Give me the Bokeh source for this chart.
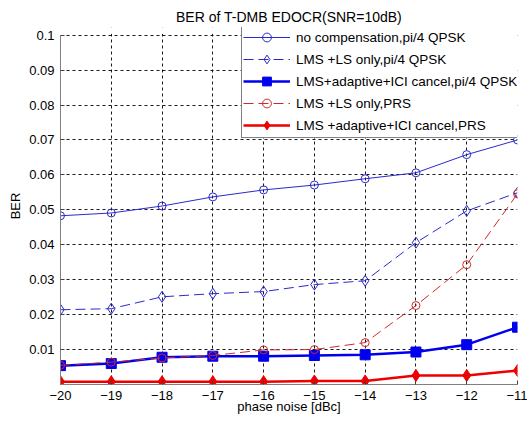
from bokeh.plotting import figure
from bokeh.embed import file_html
from bokeh.resources import INLINE
from bokeh.models import FixedTicker, NumeralTickFormatter, Legend, LegendItem, Range1d, BoxAnnotation

# ---- data ----
phase_noise = [-20, -19, -18, -17, -16, -15, -14, -13, -12, -11]
no_comp_qpsk = [0.0483, 0.0491, 0.0511, 0.0537, 0.0557, 0.0571, 0.0589, 0.0606, 0.0658, 0.0700]
lms_ls_qpsk = [0.0214, 0.0217, 0.0251, 0.0260, 0.0266, 0.0286, 0.0297, 0.0406, 0.0497, 0.0549]
lms_adapt_qpsk = [0.0054, 0.0060, 0.0078, 0.0081, 0.0081, 0.0083, 0.0085, 0.0093, 0.0114, 0.0164]
lms_ls_prs = [0.0055, 0.0064, 0.0076, 0.0083, 0.0099, 0.0100, 0.0120, 0.0226, 0.0343, 0.0546]
lms_adapt_prs = [0.0008, 0.0008, 0.0008, 0.0008, 0.0008, 0.0010, 0.0010, 0.0026, 0.0026, 0.0040]

x_ticks = [-20, -19, -18, -17, -16, -15, -14, -13, -12, -11]
y_ticks = [0.01, 0.02, 0.03, 0.04, 0.05, 0.06, 0.07, 0.08, 0.09, 0.1]

labels = ["no compensation,pi/4 QPSK",
          "LMS +LS only,pi/4 QPSK",
          "LMS+adaptive+ICI cancel,pi/4 QPSK",
          "LMS +LS only,PRS",
          "LMS +adaptive+ICI cancel,PRS"]

FONT = "Liberation Sans"
Y_TOP = max(y_ticks)

p = figure(width=527, height=425, output_backend="svg", toolbar_location=None,
           x_range=Range1d(-20, -11), y_range=Range1d(0, Y_TOP * 1.022),
           title="BER of T-DMB EDOCR(SNR=10dB)",
           min_border_left=60, min_border_right=10, min_border_top=27, min_border_bottom=41)

p.title.align = "center"
p.title.text_font = FONT
p.title.text_font_size = "14px"
p.title.text_font_style = "normal"
p.title.text_color = "black"
p.title.standoff = 5

p.outline_line_color = None
p.background_fill_color = "white"
p.border_fill_color = "white"

for ax in (p.xaxis[0], p.yaxis[0]):
    ax.axis_line_color = "#808080"
    ax.major_tick_line_color = "#404040"
    ax.major_tick_in = 4
    ax.major_tick_out = 0
    ax.minor_tick_line_color = None
    ax.major_label_text_font = FONT
    ax.major_label_text_font_size = "13px"
    ax.major_label_text_color = "black"
    ax.axis_label_text_font = FONT
    ax.axis_label_text_font_size = "13px"
    ax.axis_label_text_font_style = "normal"
    ax.axis_label_text_color = "black"

p.yaxis.bounds = (0, Y_TOP)
p.xaxis.ticker = FixedTicker(ticks=x_ticks)
p.yaxis.ticker = FixedTicker(ticks=y_ticks)
p.yaxis.formatter = NumeralTickFormatter(format="0.[00]")
p.xaxis.axis_label = "phase noise [dBc]"
p.yaxis.axis_label = "BER"
p.xaxis.major_label_standoff = 6
p.yaxis.major_label_standoff = 6
p.xaxis.axis_label_standoff = -4
p.yaxis.axis_label_standoff = 3

for g in (p.xgrid[0], p.ygrid[0]):
    g.grid_line_color = "black"
    g.grid_line_dash = "3 3"
    g.grid_line_width = 1
    g.grid_line_alpha = 0.9

# white mask above the top of the axes box (room kept for the legend)
p.add_layout(BoxAnnotation(bottom=Y_TOP * 1.004, fill_color="white", fill_alpha=1,
                           line_color=None))

BLUE = "#0000ee"
TBLUE = "#2a2acc"
RED = "#ee0000"
DRED = "#cc2a2a"

r1l = p.line(phase_noise, no_comp_qpsk, line_color=TBLUE, line_width=1)
r1m = p.scatter(phase_noise, no_comp_qpsk, marker="circle", size=8, fill_color=None,
                line_color=TBLUE, line_width=1)

r2l = p.line(phase_noise, lms_ls_qpsk, line_color=TBLUE, line_width=1, line_dash="10 5")
r2m = p.scatter(phase_noise, lms_ls_qpsk, marker="diamond", size=11, fill_color=None,
                line_color=TBLUE, line_width=1)

r3l = p.line(phase_noise, lms_adapt_qpsk, line_color=BLUE, line_width=2.5)
r3m = p.scatter(phase_noise, lms_adapt_qpsk, marker="square", size=10, fill_color=BLUE,
                line_color=BLUE)

r4l = p.line(phase_noise, lms_ls_prs, line_color=DRED, line_width=1, line_dash="10 5")
r4m = p.scatter(phase_noise, lms_ls_prs, marker="circle", size=8, fill_color=None,
                line_color=DRED, line_width=1)

r5l = p.line(phase_noise, lms_adapt_prs, line_color=RED, line_width=2.5)
r5m = p.scatter(phase_noise, lms_adapt_prs, marker="diamond", size=12, fill_color=RED,
                line_color=RED)

legend = Legend(items=[
    LegendItem(label=labels[0], renderers=[r1l, r1m]),
    LegendItem(label=labels[1], renderers=[r2l, r2m]),
    LegendItem(label=labels[2], renderers=[r3l, r3m]),
    LegendItem(label=labels[3], renderers=[r4l, r4m]),
    LegendItem(label=labels[4], renderers=[r5l, r5m]),
], location=(181, 246))
legend.border_line_color = "black"
legend.border_line_width = 1
legend.background_fill_color = "white"
legend.background_fill_alpha = 1
legend.label_text_font = FONT
legend.label_text_font_size = "13.5px"
legend.label_text_color = "black"
legend.glyph_width = 47
legend.glyph_height = 22
legend.label_height = 22
legend.label_standoff = 6
legend.spacing = 0
legend.padding = 1
legend.margin = 0
p.add_layout(legend, "center")

open("out.html", "w").write(file_html(p, INLINE))
